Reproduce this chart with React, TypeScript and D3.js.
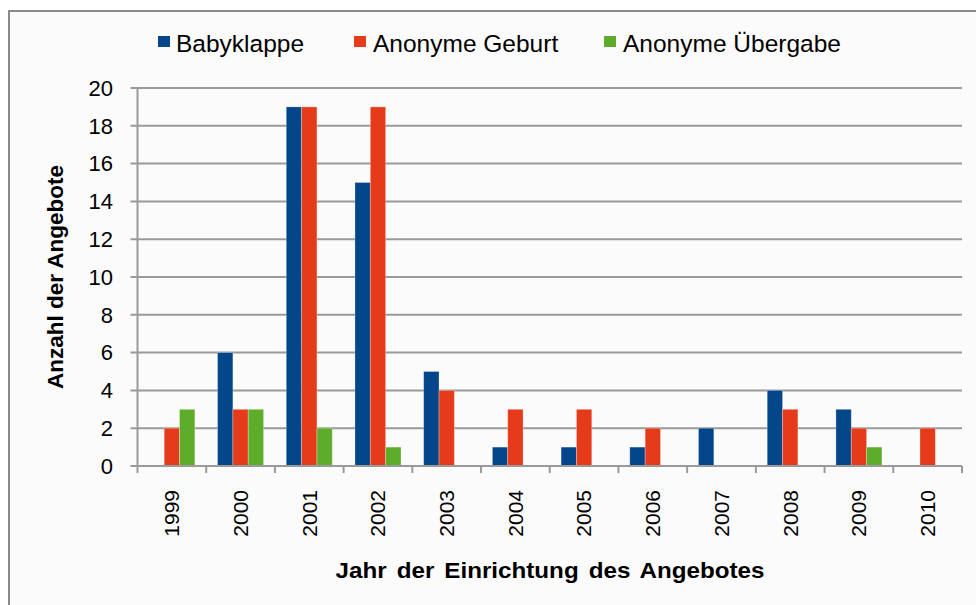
import React from "react";
import * as d3 from "d3";

const years = ["1999", "2000", "2001", "2002", "2003", "2004", "2005", "2006", "2007", "2008", "2009", "2010"];
const seriesNames = ["Babyklappe", "Anonyme Geburt", "Anonyme Übergabe"];
const babyklappe = [0, 6, 19, 15, 5, 1, 1, 1, 2, 4, 3, 0];
const anonymeGeburt = [2, 3, 19, 19, 4, 3, 3, 2, 0, 3, 2, 2];
const anonymeUebergabe = [3, 3, 2, 1, 0, 0, 0, 0, 0, 0, 1, 0];
const yTicks = [0, 2, 4, 6, 8, 10, 12, 14, 16, 18, 20];
const colors = ["#03468A", "#E63B1B", "#5DAD2B"];

export default function App() {
  const W = 976, H = 605;
  const left = 137.5, right = 962, top = 88, bottom = 466;
  const seriesValues = [babyklappe, anonymeGeburt, anonymeUebergabe];
  const x = d3.scaleBand<string>().domain(years).range([left, right]).paddingInner(0.33).paddingOuter(0.165);
  const band = d3.scaleBand<number>().domain([0, 1, 2]).range([0, x.bandwidth()]);
  const y = d3.scaleLinear().domain([0, 20]).range([bottom, top]);
  const step = (right - left) / years.length;
  const font = "'Liberation Sans', Arial, sans-serif";
  const legendX = [158, 354, 604];
  const legendTextX = [176, 373, 623];

  return (
    <svg width={W} height={H} style={{ position: "absolute", left: 0, top: 0 }} fontFamily={font}>
      <rect x={0} y={0} width={W} height={H} fill="#ffffff" />
      <rect x={9} y={11} width={W + 10} height={H + 10} fill="#fbfbfb" stroke="#8a8a8a" strokeWidth={2} />
      {/* gridlines */}
      {yTicks.map((t) => (
        <line key={"g" + t} x1={left - 7} x2={right} y1={y(t)} y2={y(t)} stroke="#9a9a9a" strokeWidth={2} />
      ))}
      {/* bars */}
      {seriesValues.map((vals, si) =>
        vals.map((v, i) =>
          v > 0 ? (
            <rect
              key={si + "-" + i}
              x={(x(years[i]) as number) + (band(si) as number)}
              y={y(v)}
              width={band.bandwidth()}
              height={y(0) - y(v)}
              fill={colors[si]}
              stroke="#ffffff"
              strokeOpacity={0.35}
              strokeWidth={0.8}
            />
          ) : null
        )
      )}
      {/* y axis */}
      <line x1={left} x2={left} y1={top} y2={bottom} stroke="#9a9a9a" strokeWidth={2} />
      {yTicks.map((t) => (
        <text key={"yl" + t} x={113} y={y(t)} dy="0.35em" textAnchor="end" fontSize={22} fill="#000">
          {t}
        </text>
      ))}
      {/* x axis */}
      <line x1={left} x2={right} y1={bottom} y2={bottom} stroke="#9a9a9a" strokeWidth={2} />
      {d3.range(years.length + 1).map((i) => (
        <line key={"xt" + i} x1={left + i * step} x2={left + i * step} y1={bottom} y2={bottom + 7} stroke="#9a9a9a" strokeWidth={2} />
      ))}
      {years.map((yr) => (
        <text
          key={"xl" + yr}
          transform={`translate(${(x(yr) as number) + x.bandwidth() / 2},490) rotate(-90)`}
          dy="0.35em"
          textAnchor="end"
          fontSize={21}
          fill="#000"
        >
          {yr}
        </text>
      ))}
      {/* axis titles */}
      <text transform="translate(550,578) scale(1.1,1)" textAnchor="middle" fontSize={22} fontWeight="bold" fill="#000" wordSpacing={3}>
        Jahr der Einrichtung des Angebotes
      </text>
      <text transform="translate(63,277) rotate(-90)" textAnchor="middle" fontSize={22.5} fontWeight="bold" fill="#000">
        Anzahl der Angebote
      </text>
      {/* legend */}
      {seriesNames.map((n, i) => (
        <g key={"lg" + i}>
          <rect x={legendX[i]} y={36} width={12} height={11} fill={colors[i]} />
          <text x={legendTextX[i]} y={51.5} fontSize={24.5} fill="#000">
            {n}
          </text>
        </g>
      ))}
    </svg>
  );
}
